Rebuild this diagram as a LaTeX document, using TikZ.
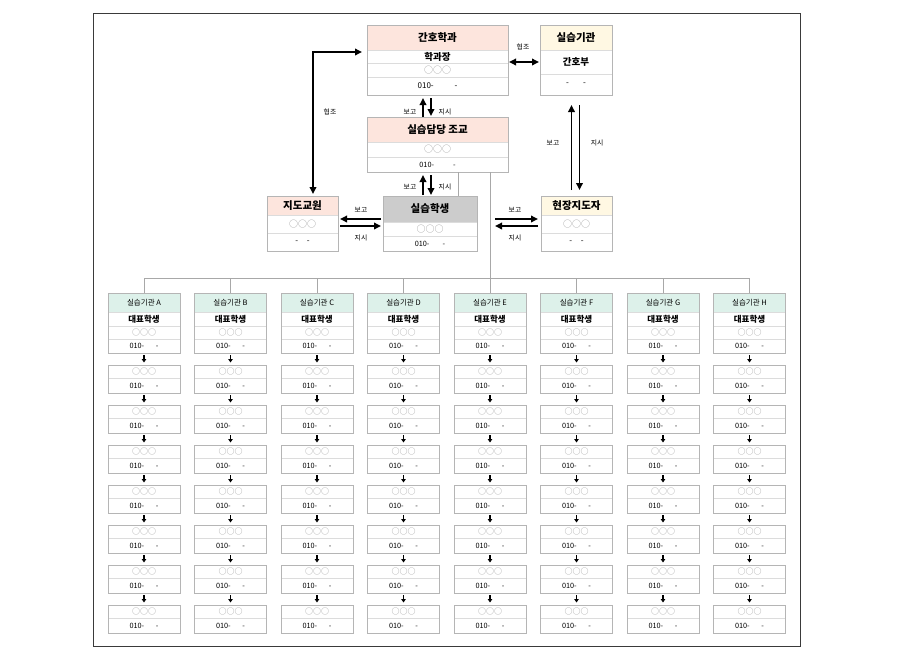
\documentclass[tikz,border=0pt]{standalone}
\usepackage{fontspec}
\setmainfont{Noto Sans CJK KR}
\usetikzlibrary{arrows.meta}
\definecolor{pinkH}{HTML}{FDE5DD}
\definecolor{creamH}{HTML}{FFF8E3}
\definecolor{mintH}{HTML}{DDF1EA}
\definecolor{grayH}{HTML}{CCCCCC}
\definecolor{bordG}{HTML}{B5B5B5}
\definecolor{rowG}{HTML}{DCDCDC}
\definecolor{circG}{HTML}{9A9A9A}
\definecolor{connG}{HTML}{A8A8A8}
\definecolor{frameG}{HTML}{3A3A3A}
\tikzset{
  cellst/.style={draw=rowG, line width=0.6pt, inner sep=0pt, outer sep=0pt, text=black},
  frmst/.style={draw=bordG, line width=0.9pt, inner sep=0pt, outer sep=0pt},
  hbig/.style={font=\fontsize{10.5}{11}\selectfont\bfseries},
  nbig/.style={font=\fontsize{9.5}{10}\selectfont\bfseries},
  cbig/.style={font=\fontsize{9}{10}\selectfont, text=circG},
  tbig/.style={font=\fontsize{8}{9}\selectfont},
  hsm/.style={font=\fontsize{7.5}{8}\selectfont},
  nsm/.style={font=\fontsize{8.5}{9}\selectfont\bfseries},
  csm/.style={font=\fontsize{8}{9}\selectfont, text=circG},
  tsm/.style={font=\fontsize{7.3}{8}\selectfont},
  lbl/.style={font=\fontsize{6.8}{7}\selectfont, inner sep=0pt},
  barr/.style={line width=1.8pt, -{Triangle[length=7pt,width=6.5pt]}},
  dbarr/.style={line width=1.8pt, {Triangle[length=7pt,width=6.5pt]}-{Triangle[length=7pt,width=6.5pt]}},
  sarr/.style={line width=1.5pt, -{Triangle[length=3.5pt,width=4.5pt]}},
  conn/.style={draw=connG, line width=0.7pt}
}
\newcommand\cell[7]{\node[cellst,#6,minimum width=#4pt,minimum height=#5pt,anchor=north west] (#1) at (#2,#3) {#7};}
\newcommand\frm[5]{\node[frmst,minimum width=#4pt,minimum height=#5pt,anchor=north west] (#1) at (#2,#3) {};}
\begin{document}
\begin{tikzpicture}[x=1pt,y=-1pt]
\useasboundingbox[fill=white] (0,0) rectangle (900,670);
\draw[frameG, line width=1pt] (93,13) rectangle (800,646);

% ---- top boxes ----
% 간호학과
\cell{deptH}{367}{25}{141}{25}{fill=pinkH,hbig}{간호학과}
\cell{deptN}{367}{50}{141}{13}{nbig}{학과장}
\cell{deptC}{367}{63}{141}{14}{cbig}{○○○}
\cell{deptT}{367}{77}{141}{18}{tbig}{010-\hspace{2.6em}-}
\frm{dept}{367}{25}{141}{70}
% 실습기관
\cell{instH}{540}{25}{72}{25}{fill=creamH,hbig}{실습기관}
\cell{instN}{540}{50}{72}{24}{nbig}{간호부}
\cell{instT}{540}{74}{72}{21}{tbig}{-\hspace{1.8em}-}
\frm{inst}{540}{25}{72}{70}
% 실습담당 조교
\cell{asstH}{367}{117}{141}{25}{fill=pinkH,hbig}{실습담당 조교}
\cell{asstC}{367}{142}{141}{15}{cbig}{○○○}
\cell{asstT}{367}{157}{141}{15}{tsm}{010-\hspace{2.6em}-}
\frm{asst}{367}{117}{141}{55}
% 지도교원
\cell{tutH}{267}{196}{71}{19}{fill=pinkH,hbig}{지도교원}
\cell{tutC}{267}{215}{71}{18}{cbig}{○○○}
\cell{tutT}{267}{233}{71}{18}{tbig}{-\hspace{1.1em}-}
\frm{tutor}{267}{196}{71}{55}
% 실습학생
\cell{stuH}{383}{196}{94}{26}{fill=grayH,hbig}{실습학생}
\cell{stuC}{383}{222}{94}{14}{cbig}{○○○}
\cell{stuT}{383}{236}{94}{15}{tsm}{010-\hspace{1.8em}-}
\frm{student}{383}{196}{94}{55}
% 현장지도자
\cell{fldH}{541}{196}{71}{19}{fill=creamH,hbig}{현장지도자}
\cell{fldC}{541}{215}{71}{18}{cbig}{○○○}
\cell{fldT}{541}{233}{71}{18}{tbig}{-\hspace{1.1em}-}
\frm{field}{541}{196}{71}{55}

% ---- gray connectors ----
\coordinate (bus) at (490,278);
\draw[conn] ([xshift=28pt]student.north) -- ([xshift=28pt]student.north |- asst.south);
\draw[conn] ([xshift=52.5pt]asst.south) -- (bus);

% ---- columns ----
\foreach \L [count=\i from 0] in {A,B,C,D,E,F,G,H} {
  \pgfmathsetmacro\x{108+86.5*\i}
  \cell{c\L-h}{\x}{293}{72}{19}{fill=mintH,hsm}{실습기관 \L}
  \cell{c\L-n}{\x}{312}{72}{14}{nsm}{대표학생}
  \cell{c\L-c}{\x}{326}{72}{13}{csm}{○○○}
  \cell{c\L-t}{\x}{339}{72}{14}{tsm}{010-\hspace{1.6em}-}
  \frm{c\L}{\x}{293}{72}{60}
  \draw[conn] (c\L.north) -- (c\L.north |- bus);
  \foreach \k in {1,...,7} {
    \pgfmathsetmacro\y{365+40*(\k-1)}
    \pgfmathsetmacro\yy{\y+13}
    \cell{s\L\k-c}{\x}{\y}{72}{13}{csm}{○○○}
    \cell{s\L\k-t}{\x}{\yy}{72}{15}{tsm}{010-\hspace{1.6em}-}
    \frm{s\L\k}{\x}{\y}{72}{28}
  }
  \draw[sarr] ([yshift=-2pt]c\L.south) -- ([yshift=2.5pt]s\L1.north);
  \foreach \k [remember=\k as \kp (initially 1)] in {2,...,7} {
    \draw[sarr] ([yshift=-2pt]s\L\kp.south) -- ([yshift=2.5pt]s\L\k.north);
  }
}
\draw[conn] (cA.north |- bus) -- (cH.north |- bus);

% ---- black arrows ----
% dept <-> asst
\draw[barr, shorten >=3pt] ([xshift=-14.5pt]asst.north) -- ([xshift=-14.5pt]dept.south);
\draw[barr, shorten <=3pt, shorten >=1pt] ([xshift=-6.5pt]dept.south) -- ([xshift=-6.5pt]asst.north);
\node[lbl] (l1) at (410,112) {보고};
\node[lbl] (l2) at (445,112) {지시};
% asst <-> student
\draw[barr, shorten >=3pt, shorten <=1pt] ([xshift=-7pt]student.north) -- ([xshift=-7pt]student.north |- asst.south);
\draw[barr, shorten <=3pt, shorten >=1pt] ([xshift=1pt]student.north |- asst.south) -- ([xshift=1pt]student.north);
\node[lbl] (l3) at (410,187) {보고};
\node[lbl] (l4) at (445,187) {지시};
% student <-> tutor
\draw[barr, shorten <=2pt, shorten >=2pt] ([yshift=4.5pt]student.west) -- ([yshift=4.5pt]tutor.east);
\draw[barr, shorten <=2pt, shorten >=2pt] ([yshift=-2.5pt]tutor.east) -- ([yshift=-2.5pt]student.west);
\node[lbl] (l5) at (361,210) {보고};
\node[lbl] (l6) at (361,238) {지시};
% student <-> field
\draw[barr, shorten <=18pt, shorten >=3pt] ([yshift=4.5pt]student.east) -- ([yshift=4.5pt]field.west);
\draw[barr, shorten <=3pt, shorten >=18pt] ([yshift=-2.5pt]field.west) -- ([yshift=-2.5pt]student.east);
\node[lbl] (l7) at (515,210) {보고};
\node[lbl] (l8) at (515,238) {지시};
% field <-> inst
\draw[barr, shorten <=6pt, shorten >=10pt] ([xshift=-5pt]field.north) -- ([xshift=-5pt]field.north |- inst.south);
\draw[barr, shorten <=10pt, shorten >=6pt] ([xshift=3pt]field.north |- inst.south) -- ([xshift=3pt]field.north);
\node[lbl] (l9) at (553,143) {보고};
\node[lbl] (l10) at (597,143) {지시};
% dept <-> inst
\draw[dbarr, shorten <=1pt, shorten >=1pt] ([yshift=-2pt]dept.east) -- ([yshift=-2pt]dept.east -| inst.west);
\node[lbl] (l11) at (523,47) {협조};
% tutor <-> dept
\draw[dbarr, shorten <=2pt, shorten >=5pt] ([xshift=10.5pt]tutor.north) |- ([yshift=8pt]dept.west);
\node[lbl] (l12) at (330,112) {협조};
\end{tikzpicture}
\end{document}
